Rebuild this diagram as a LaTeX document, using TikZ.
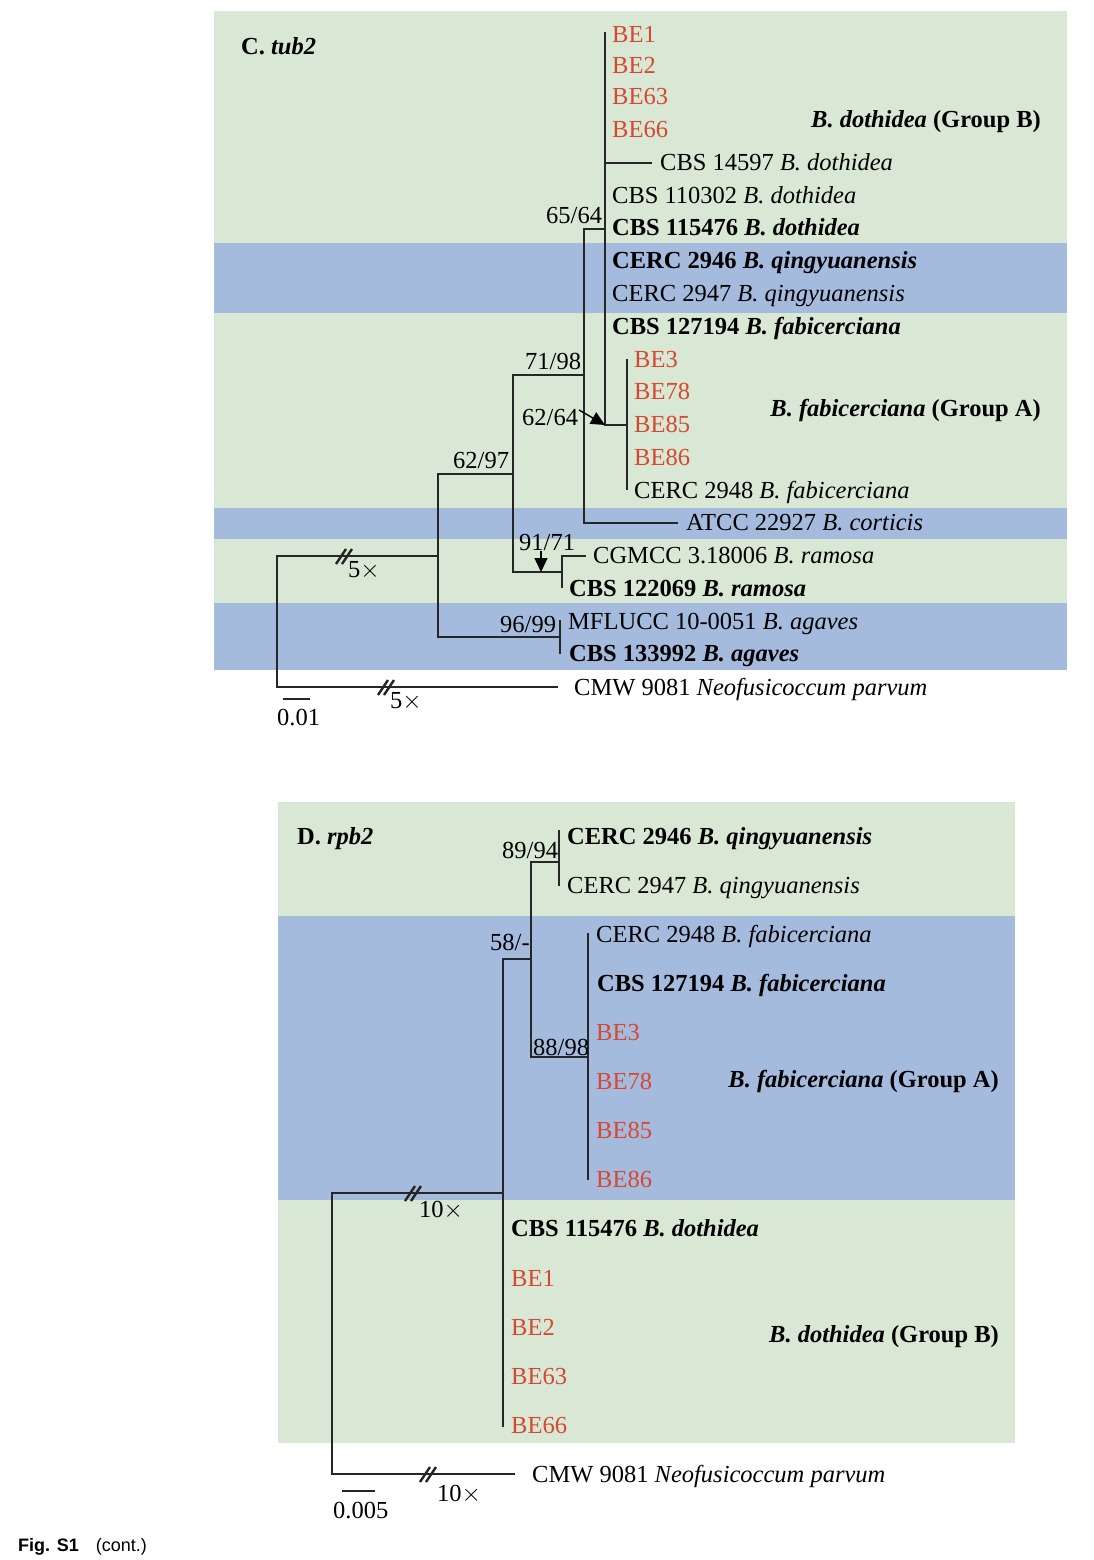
\documentclass[tikz,border=0pt]{standalone}
\usepackage{fontspec}
\setmainfont{Liberation Serif}
\newfontfamily\figfont{Liberation Sans}
\usetikzlibrary{arrows.meta}
\definecolor{bggreen}{RGB}{216,232,212}
\definecolor{bgblue}{RGB}{165,187,222}
\definecolor{bered}{RGB}{214,72,48}

\begin{document}
\begin{tikzpicture}[
    x=1pt, y=-1pt,
    every node/.style={inner sep=0pt, font=\fontsize{24.5}{29}\selectfont},
    taxon/.style={anchor=base west},
    iso/.style={anchor=base west, text=bered},
    supp/.style={anchor=base west},
    grp/.style={anchor=base east, font=\fontsize{24.5}{29}\selectfont\bfseries},
    branch/.style={line width=2.7pt, draw=black!85},
    brk/.style={line width=2.4pt, draw=black!85},
    arw/.style={line width=1.4pt, -{Triangle[length=14pt,width=13pt]}}
]
\useasboundingbox (0,0) rectangle (1093,1560);

% ----- C. tub2 : background -----
\fill[bggreen] (214,11)  rectangle (1067,243);
\fill[bgblue]  (214,243) rectangle (1067,313);
\fill[bggreen] (214,313) rectangle (1067,508);
\fill[bgblue]  (214,508) rectangle (1067,539);
\fill[bggreen] (214,539) rectangle (1067,603);
\fill[bgblue]  (214,603) rectangle (1067,670);

% ----- C. tub2 : inner nodes -----
\coordinate (rootC) at (277,621);
\coordinate (nF)    at (438,556);
\coordinate (nC)    at (513,474);
\coordinate (nB)    at (584,375);
\coordinate (cDoth) at (605,229);
\coordinate (cFab)  at (627,425);
\coordinate (cRam)  at (562,572);
\coordinate (cAga)  at (560,637);

% ----- C. tub2 : branch ends -----
\coordinate (eBE1)   at (605,32);
\coordinate (e14597) at (652,163);
\coordinate (eFabT)  at (627,359);
\coordinate (eFabB)  at (627,490);
\coordinate (eATCC)  at (678,523);
\coordinate (eCGMCC) at (586,556);
\coordinate (eRamB)  at (562,588);
\coordinate (eAgaT)  at (560,620);
\coordinate (eAgaB)  at (560,654);
\coordinate (eCMW)   at (558,687);

% ----- C. tub2 : branches -----
\draw[branch] (rootC) |- (nF);
\draw[branch] (rootC) |- (eCMW);
\draw[branch] (nF) |- (nC);
\draw[branch] (nF) |- (cAga);
\draw[branch] (nC) |- (nB);
\draw[branch] (nC) |- (cRam);
\draw[branch] (nB) |- (cDoth);
\draw[branch] (nB) |- (eATCC);
\draw[branch] (cDoth) |- (eBE1);
\draw[branch] (cDoth) |- (e14597);
\draw[branch] (cDoth) |- (cFab);
\draw[branch] (cFab) |- (eFabT);
\draw[branch] (cFab) |- (eFabB);
\draw[branch] (cRam) |- (eCGMCC);
\draw[branch] (cRam) |- (eRamB);
\draw[branch] (cAga) |- (eAgaT);
\draw[branch] (cAga) |- (eAgaB);

% ----- C. tub2 : breaks and arrows -----
\coordinate (bk1) at (345,556);
\coordinate (bk2) at (387,687);
\draw[brk] (bk1) ++(-9,8) -- ++(10,-15) (bk1) ++(-3,8) -- ++(10,-15);
\draw[brk] (bk2) ++(-9,8) -- ++(10,-15) (bk2) ++(-3,8) -- ++(10,-15);
\coordinate (a1) at (579,410);
\coordinate (a2) at (541,551);
\draw[arw] (a1) -- (cDoth |- cFab);
\draw[arw] (a2) -- (a2 |- cRam);

% ----- C. tub2 : scale -----
\coordinate (sbC1) at (283,699);
\coordinate (sbC2) at (310,699);
\draw[branch] (sbC1) -- (sbC2);
\node[supp] (scC) at (277,725) {0.01};

% ----- C. tub2 : taxa -----
\node[iso]   (c1)  at (612,43)  {BE1};
\node[iso]   (c2)  at (612,74)  {BE2};
\node[iso]   (c3)  at (612,105) {BE63};
\node[iso]   (c4)  at (612,138) {BE66};
\node[taxon] (c5)  at (660,170) {CBS 14597 \textit{B. dothidea}};
\node[taxon] (c6)  at (612,203) {CBS 110302 \textit{B. dothidea}};
\node[taxon] (c7)  at (612,235) {\textbf{CBS 115476 \textit{B. dothidea}}};
\node[taxon] (c8)  at (612,268) {\textbf{CERC 2946 \textit{B. qingyuanensis}}};
\node[taxon] (c9)  at (612,301) {CERC 2947 \textit{B. qingyuanensis}};
\node[taxon] (c10) at (612,334) {\textbf{CBS 127194 \textit{B. fabicerciana}}};
\node[iso]   (c11) at (634,367) {BE3};
\node[iso]   (c12) at (634,399) {BE78};
\node[iso]   (c13) at (634,432) {BE85};
\node[iso]   (c14) at (634,465) {BE86};
\node[taxon] (c15) at (634,498) {CERC 2948 \textit{B. fabicerciana}};
\node[taxon] (c16) at (686,530) {ATCC 22927 \textit{B. corticis}};
\node[taxon] (c17) at (593,563) {CGMCC 3.18006 \textit{B. ramosa}};
\node[taxon] (c18) at (569,596) {\textbf{CBS 122069 \textit{B. ramosa}}};
\node[taxon] (c19) at (568,629) {MFLUCC 10-0051 \textit{B. agaves}};
\node[taxon] (c20) at (569,661) {\textbf{CBS 133992 \textit{B. agaves}}};
\node[taxon] (c21) at (574,695) {CMW 9081 \textit{Neofusicoccum parvum}};

% ----- C. tub2 : labels -----
\node[taxon, font=\fontsize{24.5}{29}\selectfont\bfseries] (panC) at (241,55) {C. \textit{tub2}};
\node[grp] (gBc) at (1041,128) {\textit{B. dothidea} (Group B)};
\node[grp] (gAc) at (1041,416) {\textit{B. fabicerciana} (Group A)};
\node[supp] (s1) at (546,223) {65/64};
\node[supp] (s2) at (525,369) {71/98};
\node[supp] (s3) at (522,425) {62/64};
\node[supp] (s4) at (453,468) {62/97};
\node[supp] (s5) at (519,550) {91/71};
\node[supp] (s6) at (500,632) {96/99};
\node[supp] (x1) at (348,577) {5$\times$};
\node[supp] (x2) at (390,708) {5$\times$};

% ----- D. rpb2 : background -----
\fill[bggreen] (278,802)  rectangle (1015,916);
\fill[bgblue]  (278,916)  rectangle (1015,1200);
\fill[bggreen] (278,1200) rectangle (1015,1443);

% ----- D. rpb2 : inner nodes -----
\coordinate (rootD) at (332,1333);
\coordinate (nH)    at (503,1193);
\coordinate (nI)    at (531,959);
\coordinate (cQin)  at (559,862);
\coordinate (cFabD) at (588,1057);

% ----- D. rpb2 : branch ends -----
\coordinate (eQinT)  at (559,830);
\coordinate (eQinB)  at (559,886);
\coordinate (eFabDT) at (588,933);
\coordinate (eFabDB) at (588,1180);
\coordinate (eDothB) at (503,1427);
\coordinate (eCMWd)  at (515,1474);

% ----- D. rpb2 : branches -----
\draw[branch] (rootD) |- (nH);
\draw[branch] (rootD) |- (eCMWd);
\draw[branch] (nH) |- (nI);
\draw[branch] (nH) |- (eDothB);
\draw[branch] (nI) |- (cQin);
\draw[branch] (nI) |- (cFabD);
\draw[branch] (cQin) |- (eQinT);
\draw[branch] (cQin) |- (eQinB);
\draw[branch] (cFabD) |- (eFabDT);
\draw[branch] (cFabD) |- (eFabDB);

% ----- D. rpb2 : breaks -----
\coordinate (bk3) at (414,1193);
\coordinate (bk4) at (429,1474);
\draw[brk] (bk3) ++(-9,8) -- ++(10,-15) (bk3) ++(-3,8) -- ++(10,-15);
\draw[brk] (bk4) ++(-9,8) -- ++(10,-15) (bk4) ++(-3,8) -- ++(10,-15);

% ----- D. rpb2 : scale -----
\coordinate (sbD1) at (342,1491);
\coordinate (sbD2) at (375,1491);
\draw[branch] (sbD1) -- (sbD2);
\node[supp] (scD) at (333,1518) {0.005};

% ----- D. rpb2 : taxa -----
\node[taxon] (d1)  at (567,844)  {\textbf{CERC 2946 \textit{B. qingyuanensis}}};
\node[taxon] (d2)  at (567,893)  {CERC 2947 \textit{B. qingyuanensis}};
\node[taxon] (d3)  at (596,942)  {CERC 2948 \textit{B. fabicerciana}};
\node[taxon] (d4)  at (597,991)  {\textbf{CBS 127194 \textit{B. fabicerciana}}};
\node[iso]   (d5)  at (596,1040) {BE3};
\node[iso]   (d6)  at (596,1089) {BE78};
\node[iso]   (d7)  at (596,1138) {BE85};
\node[iso]   (d8)  at (596,1187) {BE86};
\node[taxon] (d9)  at (511,1236) {\textbf{CBS 115476 \textit{B. dothidea}}};
\node[iso]   (d10) at (511,1286) {BE1};
\node[iso]   (d11) at (511,1335) {BE2};
\node[iso]   (d12) at (511,1384) {BE63};
\node[iso]   (d13) at (511,1433) {BE66};
\node[taxon] (d14) at (532,1482) {CMW 9081 \textit{Neofusicoccum parvum}};

% ----- D. rpb2 : labels -----
\node[taxon, font=\fontsize{24.5}{29}\selectfont\bfseries] (panD) at (297,844) {D. \textit{rpb2}};
\node[grp] (gAd) at (999,1087) {\textit{B. fabicerciana} (Group A)};
\node[grp] (gBd) at (999,1342) {\textit{B. dothidea} (Group B)};
\node[supp] (s7) at (502,858)  {89/94};
\node[supp] (s8) at (490,950)  {58/-};
\node[supp] (s9) at (533,1055) {88/98};
\node[supp] (x3) at (419,1217) {10$\times$};
\node[supp] (x4) at (437,1501) {10$\times$};

% ----- caption -----
\node[anchor=base west, font=\figfont\fontsize{18}{21}\selectfont] (fig) at (18,1551) {\textbf{Fig. S1}\hspace{17pt}(cont.)};

\end{tikzpicture}
\end{document}
